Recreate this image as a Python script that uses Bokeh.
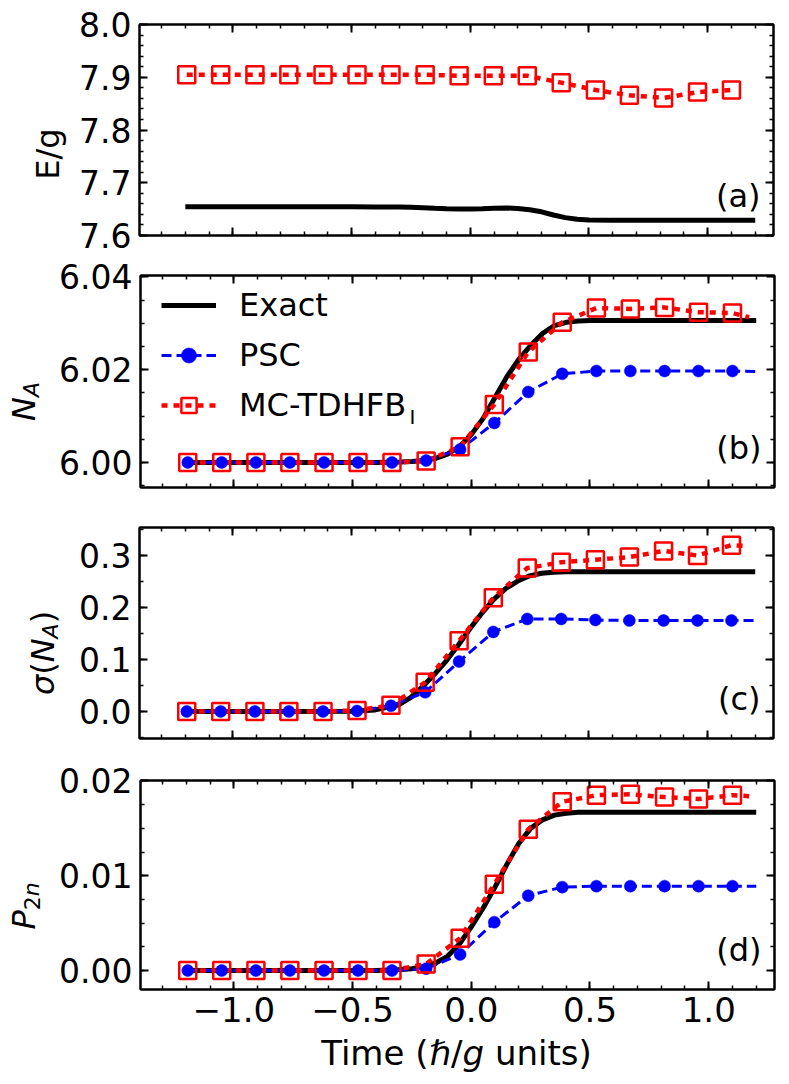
import math
from bokeh.plotting import figure
from bokeh.layouts import column, row
from bokeh.models import (Range1d, LinearAxis, SingleIntervalTicker, CustomJSTickFormatter,
                          PrintfTickFormatter, Label, Legend, LegendItem)
from bokeh.embed import file_html
from bokeh.resources import INLINE

# ---------------- data ----------------
t_markers = [-1.194, -1.051, -0.907, -0.764, -0.620, -0.477, -0.334, -0.190, -0.047,
             0.097, 0.240, 0.383, 0.527, 0.670, 0.814, 0.957, 1.100]
t_exact = [-1.2, -0.8, -0.5, -0.4, -0.3, -0.25, -0.2, -0.15, -0.1, -0.05, 0.0, 0.05,
           0.1, 0.15, 0.2, 0.25, 0.3, 0.35, 0.4, 0.45, 0.5, 0.6, 0.8, 1.2]

# (a) energy
E_exact = [7.654, 7.654, 7.654, 7.6538, 7.6535, 7.653, 7.6522, 7.6513, 7.6505, 7.650,
           7.650, 7.6505, 7.6515, 7.6518, 7.651, 7.6485, 7.6445, 7.6385, 7.6335, 7.6305,
           7.629, 7.6285, 7.6285, 7.6285]
E_mc = [7.905, 7.905, 7.905, 7.905, 7.905, 7.905, 7.905, 7.905, 7.903, 7.903, 7.903,
        7.890, 7.876, 7.866, 7.861, 7.872, 7.876]

# (b) N_A
NA_exact = [6.0, 6.0, 6.0, 6.0, 6.0001, 6.0002, 6.0004, 6.0009, 6.0018, 6.0034, 6.0060,
            6.0095, 6.0140, 6.0185, 6.0222, 6.0252, 6.0278, 6.0295, 6.0302, 6.0305,
            6.0306, 6.0306, 6.0306, 6.0306]
NA_psc = [6.0, 6.0, 6.0, 6.0, 6.0, 6.0, 6.0, 6.0004, 6.0028, 6.0085, 6.0152, 6.0191,
          6.0197, 6.0197, 6.0197, 6.0197, 6.0197]
NA_mc = [6.0, 6.0, 6.0, 6.0, 6.0, 6.0, 6.0, 6.0003, 6.0034, 6.0125, 6.0238, 6.0302,
         6.0333, 6.0331, 6.0334, 6.0324, 6.0322]

# (c) sigma(N_A)
SG_exact = [0.0, 0.0, 0.0005, 0.003, 0.013, 0.027, 0.048, 0.072, 0.098, 0.128, 0.160,
            0.190, 0.216, 0.237, 0.251, 0.261, 0.266, 0.268, 0.269, 0.269, 0.269,
            0.269, 0.269, 0.269]
SG_psc = [0.0, 0.0, 0.0, 0.0, 0.0, 0.001, 0.011, 0.037, 0.096, 0.153, 0.178, 0.178,
          0.176, 0.175, 0.175, 0.175, 0.175]
SG_mc = [0.0, 0.0, 0.0, 0.0, 0.0, 0.002, 0.012, 0.056, 0.136, 0.219, 0.276, 0.287,
         0.292, 0.297, 0.309, 0.300, 0.320]

# (d) P_2n
P_exact = [0.0, 0.0, 0.0, 0.0, 0.0001, 0.0002, 0.0004, 0.0008, 0.0015, 0.0028, 0.0046,
           0.0066, 0.0088, 0.0112, 0.0134, 0.0150, 0.0159, 0.0164, 0.0166, 0.0167,
           0.0167, 0.0167, 0.0167, 0.0167]
P_psc = [0.0, 0.0, 0.0, 0.0, 0.0, 0.0, 0.0, 0.0002, 0.0017, 0.0051, 0.0079, 0.0088,
         0.0089, 0.0089, 0.0089, 0.0089, 0.0089]
P_mc = [0.0, 0.0, 0.0, 0.0, 0.0, 0.0, 0.0, 0.0007, 0.0034, 0.0091, 0.0149, 0.0178,
        0.0185, 0.0186, 0.0183, 0.0181, 0.0185]

# line tails beyond the last marker (time, value)
t_psc_end = 1.2
t_mc_end = 1.17
NA_psc_end, NA_mc_end = 6.0196, 6.0313
SG_psc_end, SG_mc_end = 0.175, 0.318
P_psc_end, P_mc_end = 0.0089, 0.0184

legend_labels = ["Exact", "PSC", "MC-TDHFB"]
legend_sub = "I"
panel_tags = ["(a)", "(b)", "(c)", "(d)"]
# x-axis title "Time (ħ/g units)" in pieces: (text, style, space before)
x_title_parts = [("Time (", "normal", 0), ("\u210f", "italic", 0), ("/", "normal", 0),
                 ("g", "italic", 0), ("units)", "normal", 1)]

# ---------------- layout / style ----------------
FONT = "DejaVu Sans"
X_RANGE = (-1.393, 1.277)
FRAME_L = 139        # page x of frame left
FRAME_W = 634
RIGHT = 8
TOTAL_W = FRAME_L + FRAME_W + RIGHT
BLUE = "#0000ff"
RED = "#ff0000"

# fig_top: page y of the figure's top; lw: width of the y-label strip
panels = [
    dict(yr=(7.5995, 8.0005), fig_top=0, top=24, h=211, bt=24, bb=20, iv=0.1, nm=5,
         fmt="%.1f", lw=70),
    dict(yr=(5.9946, 6.0403), fig_top=255, top=275, h=212, bt=20, bb=20, iv=0.02, nm=4,
         fmt="%.2f", lw=56),
    dict(yr=(-0.052, 0.354), fig_top=507, top=527, h=211, bt=20, bb=21, iv=0.1, nm=2,
         fmt="%.1f", lw=74),
    dict(yr=(-0.002, 0.02005), fig_top=759, top=780, h=209, bt=21, bb=43, iv=0.01, nm=4,
         fmt="%.2f", lw=56),
]
TITLE_TOP = 759 + 21 + 209 + 43
TITLE_H = 49
TITLE_MID = 1052 - TITLE_TOP
TITLE_FS = 34


def xd(px):
    return X_RANGE[0] + (px - FRAME_L) / FRAME_W * (X_RANGE[1] - X_RANGE[0])


def yd(py, pan):
    y0, y1 = pan["yr"]
    return y1 - (py - pan["top"]) / pan["h"] * (y1 - y0)


blank = "return ''"


def style_axis(ax, fs="33px"):
    ax.axis_line_width = 2
    ax.axis_line_color = "black"
    ax.major_tick_in = 8
    ax.major_tick_out = 0
    ax.major_tick_line_width = 2
    ax.minor_tick_in = 4
    ax.minor_tick_out = 0
    ax.minor_tick_line_width = 1.5
    ax.major_label_text_font = FONT
    ax.major_label_text_font_size = fs
    ax.major_label_text_color = "black"


def make_fig(pan, bottom_labels=False):
    p = figure(frame_width=FRAME_W, frame_height=pan["h"],
               x_range=Range1d(*X_RANGE), y_range=Range1d(*pan["yr"]),
               output_backend="svg", toolbar_location=None,
               min_border_left=FRAME_L - pan["lw"], min_border_right=RIGHT,
               min_border_top=pan["bt"], min_border_bottom=pan["bb"],
               x_axis_type=None, y_axis_type=None)
    p.grid.visible = False
    p.outline_line_color = "black"
    p.outline_line_width = 2
    p.background_fill_color = "white"
    p.border_fill_color = "white"
    xb = LinearAxis(ticker=SingleIntervalTicker(interval=0.5, num_minor_ticks=5))
    if bottom_labels:
        xb.formatter = CustomJSTickFormatter(code="return tick.toFixed(1).replace('-', '\u2212')")
        xb.major_label_standoff = 7
        style_axis(xb, "34px")
    else:
        xb.formatter = CustomJSTickFormatter(code=blank)
        xb.major_label_standoff = 0
        style_axis(xb)
    p.add_layout(xb, "below")
    xt = LinearAxis(ticker=SingleIntervalTicker(interval=0.5, num_minor_ticks=5),
                    formatter=CustomJSTickFormatter(code=blank))
    style_axis(xt)
    xt.major_label_standoff = 0
    p.add_layout(xt, "above")
    yl = LinearAxis(ticker=SingleIntervalTicker(interval=pan["iv"], num_minor_ticks=pan["nm"]),
                    formatter=PrintfTickFormatter(format=pan["fmt"]))
    style_axis(yl)
    yl.major_label_standoff = 8
    p.add_layout(yl, "left")
    yr = LinearAxis(ticker=SingleIntervalTicker(interval=pan["iv"], num_minor_ticks=pan["nm"]),
                    formatter=CustomJSTickFormatter(code=blank))
    style_axis(yr)
    yr.major_label_standoff = 0
    p.add_layout(yr, "right")
    return p


# DejaVu Sans advance widths (em)
CW = {"T": 0.611, "i": 0.278, "m": 0.974, "e": 0.615, " ": 0.318, "(": 0.390, ")": 0.390,
      "\u210f": 0.634, "/": 0.337, "g": 0.635, "u": 0.634, "n": 0.634, "t": 0.392,
      "s": 0.521, "E": 0.632, "N": 0.748, "A": 0.684, "\u03c3": 0.634, "P": 0.603,
      "2": 0.636}


def tw(text, fs):
    return sum(CW[c] for c in text) * fs


def blank_fig(w, h):
    q = figure(frame_width=w, frame_height=h, x_range=Range1d(0, w), y_range=Range1d(h, 0),
               output_backend="svg", toolbar_location=None, min_border=0,
               min_border_left=0, min_border_right=0, min_border_top=0,
               min_border_bottom=0, x_axis_type=None, y_axis_type=None)
    q.grid.visible = False
    q.outline_line_color = None
    q.background_fill_color = "white"
    q.border_fill_color = "white"
    return q


def label_strip(pan, pieces, base_x):
    """Narrow figure left of a panel that holds its rotated y-axis label."""
    H = pan["bt"] + pan["h"] + pan["bb"]
    q = blank_fig(pan["lw"], H)
    total = sum(tw(t, fs) for t, fs, st, dx in pieces)
    s = pan["top"] + pan["h"] / 2 + total / 2
    for t, fs, st, dx in pieces:
        q.add_layout(Label(x=base_x + dx, y=s - pan["fig_top"], text=t, angle=math.pi / 2,
                           text_align="left", text_baseline="alphabetic",
                           text_font=FONT, text_font_size=f"{fs}px",
                           text_font_style=st, text_color="black"))
        s -= tw(t, fs)
    return q


def title_strip():
    q = blank_fig(TOTAL_W, TITLE_H)
    total = sum(tw(t, TITLE_FS) + sp * CW[" "] * TITLE_FS for t, st, sp in x_title_parts)
    x = FRAME_L + FRAME_W / 2 - total / 2
    for t, st, sp in x_title_parts:
        x += sp * CW[" "] * TITLE_FS
        q.add_layout(Label(x=x, y=TITLE_MID, text=t, text_align="left",
                           text_baseline="middle", text_font=FONT,
                           text_font_size=f"{TITLE_FS}px", text_font_style=st,
                           text_color="black"))
        x += tw(t, TITLE_FS)
    return q


def add_tag(p, pan, tag):
    p.add_layout(Label(x=xd(760), y=yd(pan["top"] + pan["h"] - 40, pan), text=tag,
                       text_align="right", text_baseline="middle", text_font=FONT,
                       text_font_size="32px", text_color="black"))


def draw(p, exact, psc=None, psc_end=None, mc=None, mc_end=None):
    r_ex = p.line(t_exact, exact, line_color="black", line_width=5)
    r_pl = r_pp = None
    if psc is not None:
        r_pl = p.line(t_markers + [t_psc_end], psc + [psc_end], line_color=BLUE,
                      line_width=3, line_dash="10 5")
    tm, mv = (t_markers, mc) if mc_end is None else (t_markers + [t_mc_end], mc + [mc_end])
    r_ml = p.line(tm, mv, line_color=RED, line_width=4.5, line_dash="6 6")
    if psc is not None:
        r_pp = p.scatter(t_markers, psc, marker="circle", size=12, fill_color=BLUE,
                         line_color=BLUE, line_width=0.5)
    r_mp = p.scatter(t_markers, mc, marker="square", size=17, fill_color=None,
                     line_color=RED, line_width=2.5)
    return r_ex, r_pl, r_pp, r_ml, r_mp


# (a)
pa = make_fig(panels[0])
draw(pa, E_exact, mc=E_mc)
la = label_strip(panels[0], [("E/g", 32, "normal", 0)], 47)
add_tag(pa, panels[0], panel_tags[0])

# (b)
pb = make_fig(panels[1])
r_ex, r_pl, r_pp, r_ml, r_mp = draw(pb, NA_exact, NA_psc, NA_psc_end, NA_mc, NA_mc_end)
lb = label_strip(panels[1], [("N", 32, "italic", 0), ("A", 22, "italic", 8)], 23)
add_tag(pb, panels[1], panel_tags[1])
legend = Legend(items=[LegendItem(label=legend_labels[0], renderers=[r_ex]),
                       LegendItem(label=legend_labels[1], renderers=[r_pl, r_pp]),
                       LegendItem(label=legend_labels[2], renderers=[r_ml, r_mp])],
                location=(21, 63), glyph_width=55, glyph_height=38, label_height=38,
                label_standoff=23, spacing=12, padding=10, margin=0,
                border_line_color=None, background_fill_alpha=0,
                label_text_font=FONT, label_text_font_size="32px",
                label_text_color="black")
pb.add_layout(legend)
pb.add_layout(Label(x=xd(408), y=yd(416, panels[1]), text=legend_sub, text_align="left",
                    text_baseline="alphabetic", text_font=FONT, text_font_size="20px",
                    text_color="black"))

# (c)
pc = make_fig(panels[2])
draw(pc, SG_exact, SG_psc, SG_psc_end, SG_mc, SG_mc_end)
lc = label_strip(panels[2], [("\u03c3", 32, "italic", 0), ("(", 32, "normal", 0),
                             ("N", 32, "italic", 0), ("A", 22, "italic", 8),
                             (")", 32, "normal", 0)], 42)
add_tag(pc, panels[2], panel_tags[2])

# (d)
pd_ = make_fig(panels[3], bottom_labels=True)
draw(pd_, P_exact, P_psc, P_psc_end, P_mc, P_mc_end)
ld = label_strip(panels[3], [("P", 32, "italic", 0), ("2", 22, "normal", 8),
                             ("n", 22, "italic", 8)], 23)
add_tag(pd_, panels[3], panel_tags[3])

pt = title_strip()

layout = column(row(la, pa, spacing=0), row(lb, pb, spacing=0),
                row(lc, pc, spacing=0), row(ld, pd_, spacing=0), pt, spacing=0)
open("out.html", "w").write(file_html(layout, INLINE))
